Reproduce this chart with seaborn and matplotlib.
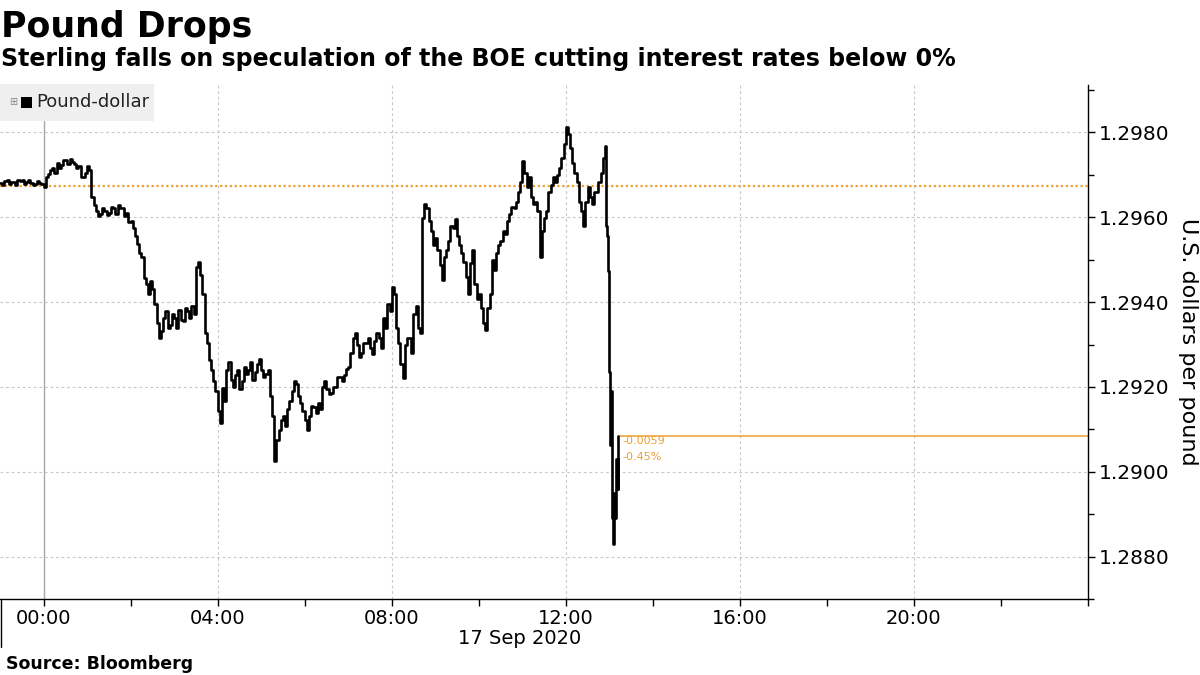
import numpy as np
import pandas as pd
import matplotlib
matplotlib.use("Agg")
import matplotlib.pyplot as plt
import seaborn as sns
from matplotlib.patches import Rectangle
from matplotlib.lines import Line2D

# ---------------- data ----------------
# hours relative to 00:00, 17 Sep 2020: 6-minute bars (a = first half, b = second half),
# then finer bars around the drop
bar_times_a = list(np.round(np.arange(-1.0, 12.95, 0.1), 2))
bar_times_b = list(np.round(np.arange(-0.95, 12.96, 0.1), 2))
tail_times = [12.93, 12.96, 12.99, 13.01, 13.03, 13.06, 13.08, 13.11, 13.14, 13.16, 13.19, 13.21]

prices_a = [
    1.29680, 1.29685, 1.29678, 1.29683, 1.29687, 1.29689, 1.29683, 1.29680, 1.29678, 1.29680,
    1.29671, 1.29703, 1.29717, 1.29728, 1.29724, 1.29735, 1.29738, 1.29726, 1.29721, 1.29696,
    1.29721, 1.29648, 1.29614, 1.29607, 1.29616, 1.29611, 1.29621, 1.29630, 1.29621, 1.29611,
    1.29591, 1.29556, 1.29515, 1.29458, 1.29419, 1.29430, 1.29350, 1.29332, 1.29378, 1.29346,
    1.29362, 1.29382, 1.29355, 1.29378, 1.29391, 1.29483, 1.29465, 1.29327, 1.29263, 1.29213,
    1.29144, 1.29197, 1.29240, 1.29217, 1.29229, 1.29194, 1.29247, 1.29240, 1.29217, 1.29254,
    1.29240, 1.29231, 1.29178, 1.29025, 1.29098, 1.29132, 1.29148, 1.29190, 1.29208, 1.29162,
    1.29121, 1.29132, 1.29153, 1.29162, 1.29201, 1.29194, 1.29185, 1.29201, 1.29224, 1.29229,
    1.29247, 1.29316, 1.29300, 1.29281, 1.29304, 1.29293, 1.29309, 1.29316, 1.29362, 1.29396,
    1.29435, 1.29339, 1.29254, 1.29300, 1.29316, 1.29373, 1.29339, 1.29598, 1.29621, 1.29568,
    1.29552, 1.29488, 1.29506, 1.29545, 1.29575, 1.29556, 1.29515, 1.29460, 1.29492, 1.29442,
    1.29419, 1.29350, 1.29385, 1.29499, 1.29515, 1.29545, 1.29561, 1.29607, 1.29621, 1.29660,
    1.29733, 1.29671, 1.29648, 1.29637, 1.29506, 1.29598, 1.29660, 1.29694, 1.29699, 1.29740,
    1.29813, 1.29763, 1.29705, 1.29637, 1.29579, 1.29671, 1.29632, 1.29660, 1.29705, 1.29767,
]
prices_b = [
    1.29676, 1.29689, 1.29683, 1.29676, 1.29685, 1.29678, 1.29687, 1.29676, 1.29685, 1.29678,
    1.29694, 1.29712, 1.29705, 1.29717, 1.29735, 1.29726, 1.29731, 1.29717, 1.29694, 1.29705,
    1.29712, 1.29630, 1.29602, 1.29621, 1.29605, 1.29625, 1.29607, 1.29621, 1.29602, 1.29589,
    1.29575, 1.29538, 1.29506, 1.29442, 1.29449, 1.29396, 1.29316, 1.29362, 1.29339, 1.29373,
    1.29339, 1.29359, 1.29387, 1.29362, 1.29373, 1.29495, 1.29419, 1.29304, 1.29240, 1.29190,
    1.29114, 1.29167, 1.29258, 1.29201, 1.29240, 1.29213, 1.29231, 1.29258, 1.29236, 1.29265,
    1.29224, 1.29240, 1.29132, 1.29075, 1.29121, 1.29109, 1.29167, 1.29213, 1.29178, 1.29144,
    1.29098, 1.29155, 1.29139, 1.29148, 1.29213, 1.29183, 1.29201, 1.29224, 1.29213, 1.29242,
    1.29281, 1.29327, 1.29270, 1.29304, 1.29316, 1.29277, 1.29327, 1.29293, 1.29339, 1.29378,
    1.29419, 1.29304, 1.29220, 1.29316, 1.29281, 1.29391, 1.29327, 1.29632, 1.29591, 1.29534,
    1.29522, 1.29453, 1.29522, 1.29579, 1.29595, 1.29534, 1.29495, 1.29419, 1.29522, 1.29407,
    1.29385, 1.29334, 1.29419, 1.29476, 1.29534, 1.29568, 1.29591, 1.29625, 1.29637, 1.29683,
    1.29705, 1.29694, 1.29632, 1.29614, 1.29568, 1.29614, 1.29676, 1.29683, 1.29717, 1.29774,
    1.29797, 1.29728, 1.29683, 1.29614, 1.29637, 1.29648, 1.29660, 1.29683, 1.29740, 1.29556,
]
tail_prices = [1.29579, 1.29474, 1.29236, 1.29064, 1.29190, 1.28892,
               1.28830, 1.28949, 1.28892, 1.29029, 1.28960, 1.29084]

prev_close = 1.29673
change_text = "-0.0059"
change_pct_text = "-0.45%"

x_tick_hours = [0, 2, 4, 6, 8, 10, 12, 14, 16, 18, 20, 22, 24]
x_tick_labels = ["00:00", "", "04:00", "", "08:00", "", "12:00", "", "16:00", "", "20:00", "", ""]
x_grid_hours = [4, 8, 12, 16, 20]
y_ticks = [1.2880, 1.2900, 1.2920, 1.2940, 1.2960, 1.2980]
y_minor = [1.2870, 1.2890, 1.2910, 1.2930, 1.2950, 1.2970, 1.2990]

title = "Pound Drops"
subtitle = "Sterling falls on speculation of the BOE cutting interest rates below 0%"
series_name = "Pound-dollar"
y_label = "U.S. dollars per pound"
date_label = "17 Sep 2020"
source = "Source: Bloomberg"

df = pd.DataFrame({"hour": bar_times_a + bar_times_b + tail_times,
                   "price": prices_a + prices_b + tail_prices})
df = df.sort_values("hour").reset_index(drop=True)

# ---------------- style ----------------
sns.set_theme(style="white")
plt.rcParams["font.family"] = ["DejaVu Sans"]
plt.rcParams["text.color"] = "black"
plt.rcParams["axes.labelcolor"] = "black"
plt.rcParams["xtick.color"] = "black"
plt.rcParams["ytick.color"] = "black"

W, H = 1200, 675
fig = plt.figure(figsize=(12, 6.75), dpi=100)
fx = lambda px: px / W
fy = lambda py: 1 - py / H

ax = fig.add_axes([fx(0), fy(599), fx(1088), (599 - 85) / H])
ax.set_xlim(-1, 24)
ax.set_ylim(1.28734, 1.29912)

# grid
ax.set_yticks(y_ticks)
ax.set_yticks(y_minor, minor=True)
ax.yaxis.grid(True, which="major", color="#c8c8c8", linestyle=(0, (2.5, 2.5)), linewidth=0.8)
for h in x_grid_hours:
    ax.axvline(h, color="#c8c8c8", linestyle=(0, (2.5, 2.5)), linewidth=0.8, zorder=0)
ax.axvline(0, color="#a8a8a8", linewidth=1.0, zorder=0)

# previous close dotted line
ax.axhline(prev_close, color="#f0a030", linestyle=(0, (1, 1.2)), linewidth=1.6, zorder=1)

# price line
sns.lineplot(data=df, x="hour", y="price", ax=ax, color="black", linewidth=1.9,
             drawstyle="steps-post", estimator=None, sort=False, legend=False, zorder=3)

# last price line + annotation
last_h = df["hour"].iloc[-1]
last_p = df["price"].iloc[-1]
ax.hlines(last_p, last_h, 24, color="#f0a030", linewidth=1.1, zorder=2)
ax.text(last_h + 0.1, last_p, change_text, color="#eb9f35", fontsize=8,
        va="top", ha="left")
ax.text(last_h + 0.1, last_p - 0.00037, change_pct_text, color="#eb9f35", fontsize=8,
        va="top", ha="left")

# axes styling
for s in ["top", "left"]:
    ax.spines[s].set_visible(False)
for s in ["bottom", "right"]:
    ax.spines[s].set_color("black")
    ax.spines[s].set_linewidth(1.0)

ax.set_xticks(x_tick_hours)
ax.set_xticklabels(x_tick_labels)
ax.tick_params(axis="x", which="major", direction="out", length=5, width=1,
               color="black", labelsize=14, pad=2, bottom=True)
ax.yaxis.tick_right()
ax.yaxis.set_label_position("right")
ax.set_yticklabels([f"{v:.4f}" for v in y_ticks])
ax.tick_params(axis="y", which="major", direction="out", length=5, width=1,
               color="black", labelsize=14.5, pad=3, right=True, left=False)
ax.tick_params(axis="y", which="minor", direction="out", length=4, width=1,
               color="black", right=True, left=False)
ax.set_xlabel("")
ax.set_ylabel(y_label, rotation=270, fontsize=16, labelpad=20, color="black")

# legend box
fig.patches.append(Rectangle((fx(0), fy(121)), fx(154), (121 - 84) / H,
                             transform=fig.transFigure, facecolor="#efefef",
                             edgecolor="none", zorder=5))
fig.text(fx(13), fy(102), "⊞", fontsize=7, color="#888888", ha="center", va="center", zorder=6)
fig.patches.append(Rectangle((fx(21), fy(108)), fx(11), 11 / H,
                             transform=fig.transFigure, facecolor="black",
                             edgecolor="none", zorder=6))
fig.text(fx(36), fy(102), series_name, fontsize=13, color="#222222",
         ha="left", va="center", zorder=6)

# titles
fig.text(fx(1), fy(37), title, fontsize=25, fontweight="bold", ha="left", va="baseline")
fig.text(fx(1), fy(66), subtitle, fontsize=17, fontweight="bold", ha="left", va="baseline")

# date label and separator
fig.text(fx(520), fy(638), date_label, fontsize=14, ha="center", va="center")
fig.add_artist(Line2D([fx(0.8), fx(0.8)], [fy(599), fy(647)], color="black",
                      linewidth=1.0, transform=fig.transFigure))

fig.text(fx(6), fy(669), source, fontsize=12.5, fontweight="bold", ha="left", va="baseline")

fig.savefig("out.png", dpi=100)
